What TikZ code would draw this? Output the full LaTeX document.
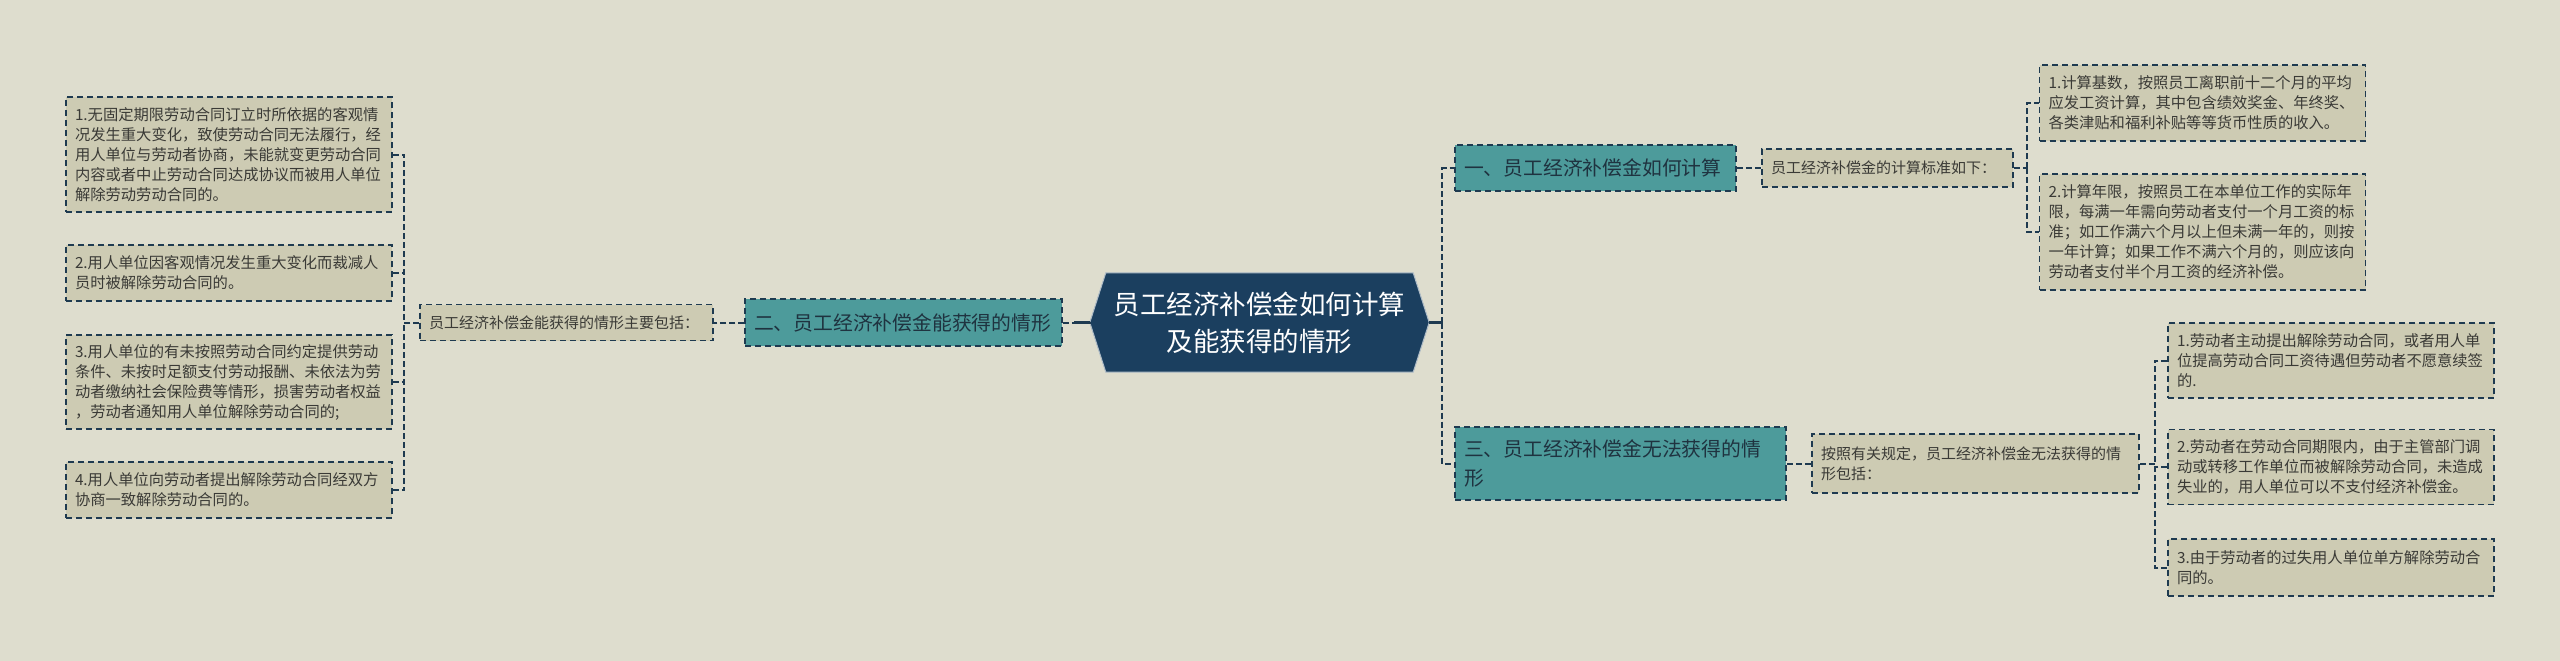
\documentclass[tikz,border=0pt]{standalone}
\usepackage{fontspec}
\newfontfamily\cjk{Noto Sans CJK SC}
\usetikzlibrary{backgrounds}
\definecolor{bgcol}{HTML}{DEDDCE}
\definecolor{leaffill}{HTML}{CDCBB3}
\definecolor{leaftext}{HTML}{3A3A36}
\definecolor{brfill}{HTML}{4D9B9B}
\definecolor{brtext}{HTML}{1F3340}
\definecolor{rootfill}{HTML}{1B3F5F}
\definecolor{edgecol}{HTML}{1E3A50}
\tikzset{
  box/.style={draw=edgecol, line width=1.5pt, dash pattern=on 6pt off 4pt, inner xsep=9pt, inner ysep=0pt, align=left},
  leaf/.style={box, fill=leaffill, text=leaftext, text width=308pt, font=\cjk\fontsize{15.3}{20}\selectfont},
  subbox/.style={box, fill=leaffill, text=leaftext, font=\cjk\fontsize{15}{20}\selectfont},
  branch/.style={box, fill=brfill, text=brtext, font=\cjk\fontsize{19.8}{29}\selectfont},
  rootbox/.style={inner sep=0pt, minimum width=339pt, minimum height=99pt, align=center, text=white, font=\cjk\fontsize{26.5}{37}\selectfont},
  conn/.style={draw=edgecol, line width=2pt, dash pattern=on 6pt off 3pt},
  rootlink/.style={draw=edgecol, line width=2.5pt}
}
\begin{document}
\begin{tikzpicture}[x=1pt,y=-1pt]
\useasboundingbox (0,0) rectangle (2560,661);

% root
\node[rootbox] (root) at (1259.5,322.5) {员工经济补偿金如何计算\\及能获得的情形};
\begin{scope}[on background layer]
  \fill[bgcol] (0,0) rectangle (2560,661);
  \filldraw[fill=rootfill, draw=white!65!rootfill, line width=1pt]
    (root.west) -- ([xshift=16pt]root.north west) -- ([xshift=-16pt]root.north east)
    -- (root.east) -- ([xshift=-16pt]root.south east) -- ([xshift=16pt]root.south west) -- cycle;
\end{scope}

% branches
\node[branch, text width=263pt, minimum height=46pt] (b1) at (1595.5,168) {一、员工经济补偿金如何计算};
\node[branch, text width=299pt, minimum height=47pt] (b2) at (903.5,322.5) {二、员工经济补偿金能获得的情形};
\node[branch, text width=313pt, minimum height=73pt] (b3) at (1620.5,463.5) {三、员工经济补偿金无法获得的情\\形};

% sub nodes
\node[subbox, text width=275pt, minimum height=36pt] (s2) at (566.5,322.5) {员工经济补偿金能获得的情形主要包括：};
\node[subbox, text width=233pt, minimum height=38pt] (s1) at (1887.5,168) {员工经济补偿金的计算标准如下：};
\node[subbox, text width=309pt, minimum height=59pt] (s3) at (1975.5,463.5) {按照有关规定，员工经济补偿金无法获得的情\\形包括：};

% left leaves
\node[leaf, minimum height=115pt] (l1) at (229,154.5) {1.无固定期限劳动合同订立时所依据的客观情\\况发生重大变化，致使劳动合同无法履行，经\\用人单位与劳动者协商，未能就变更劳动合同\\内容或者中止劳动合同达成协议而被用人单位\\解除劳动劳动合同的。};
\node[leaf, minimum height=56pt] (l2) at (229,273) {2.用人单位因客观情况发生重大变化而裁减人\\员时被解除劳动合同的。};
\node[leaf, minimum height=94pt] (l3) at (229,382) {3.用人单位的有未按照劳动合同约定提供劳动\\条件、未按时足额支付劳动报酬、未依法为劳\\动者缴纳社会保险费等情形，损害劳动者权益\\，劳动者通知用人单位解除劳动合同的;};
\node[leaf, minimum height=56pt] (l4) at (229,490) {4.用人单位向劳动者提出解除劳动合同经双方\\协商一致解除劳动合同的。};

% right leaves (branch 1)
\node[leaf, minimum height=76pt] (r1a) at (2202.5,103) {1.计算基数，按照员工离职前十二个月的平均\\应发工资计算，其中包含绩效奖金、年终奖、\\各类津贴和福利补贴等等货币性质的收入。};
\node[leaf, minimum height=116pt] (r1b) at (2202.5,232) {2.计算年限，按照员工在本单位工作的实际年\\限，每满一年需向劳动者支付一个月工资的标\\准；如工作满六个月以上但未满一年的，则按\\一年计算；如果工作不满六个月的，则应该向\\劳动者支付半个月工资的经济补偿。};

% right leaves (branch 3)
\node[leaf, minimum height=75pt] (r3a) at (2331,360.5) {1.劳动者主动提出解除劳动合同，或者用人单\\位提高劳动合同工资待遇但劳动者不愿意续签\\的.};
\node[leaf, minimum height=75pt] (r3b) at (2331,467) {2.劳动者在劳动合同期限内，由于主管部门调\\动或转移工作单位而被解除劳动合同，未造成\\失业的，用人单位可以不支付经济补偿金。};
\node[leaf, minimum height=57pt] (r3c) at (2331,567.5) {3.由于劳动者的过失用人单位单方解除劳动合\\同的。};

% trunks
\coordinate (rt) at ([xshift=13pt]root.east);
\coordinate (lt) at ([xshift=-15pt]s2.west);
\coordinate (t1) at ([xshift=13pt]s1.east);
\coordinate (t3) at ([xshift=15pt]s3.east);

% connectors: root
\draw[conn] (b2.east) -- (root.west);
\draw[rootlink] (root.west) -- ++(-16,0);
\draw[conn] (rt) |- (b1.west);
\draw[conn] (rt) |- (b3.west);
\draw[rootlink] (root.east) -- (rt);

% left side
\draw[conn] (b2.west) -- (s2.east);
\draw[conn] (s2.west) -- (lt);
\draw[conn] (l1.east) -| (lt);
\draw[conn] (l4.east) -| (lt);
\draw[conn] (l2.east) -- (l2.east -| lt);
\draw[conn] (l3.east) -- (l3.east -| lt);

% branch 1 side
\draw[conn] (b1.east) -- (s1.west);
\draw[conn] (s1.east) -- (t1);
\draw[conn] (t1) |- (r1a.west);
\draw[conn] (t1) |- (r1b.west);

% branch 3 side
\draw[conn] (b3.east) -- (s3.west);
\draw[conn] (s3.east) -- (t3);
\draw[conn] (r3a.west) -| (t3);
\draw[conn] (r3c.west) -| (t3);
\draw[conn] (r3b.west) -- (r3b.west -| t3);
\end{tikzpicture}
\end{document}
